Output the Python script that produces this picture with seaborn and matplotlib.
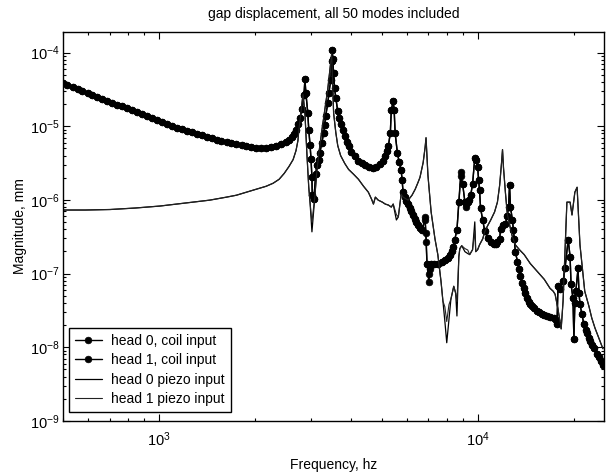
import numpy as np
import pandas as pd
import matplotlib
matplotlib.use("Agg")
import matplotlib.pyplot as plt
import seaborn as sns
from matplotlib.ticker import LogLocator, NullFormatter, LogFormatterSciNotation

# ---------------- data (log10 values) ----------------
title_text = "gap displacement, all 50 modes included"
x_label = "Frequency, hz"
y_label = "Magnitude, mm"
legend_labels = ["head 0, coil input", "head 1, coil input",
                 "head 0 piezo input", "head 1 piezo input"]

# coil input: log10(frequency in Hz)
coil_log_freq = [
    2.698, 2.713, 2.729, 2.745, 2.760, 2.776, 2.791, 2.807, 2.822, 2.838,
    2.854, 2.869, 2.885, 2.900, 2.916, 2.931, 2.947, 2.963, 2.978, 2.994,
    3.009, 3.025, 3.040, 3.056, 3.072, 3.087, 3.103, 3.118, 3.134, 3.150,
    3.165, 3.181, 3.196, 3.212, 3.227, 3.243, 3.259, 3.274, 3.290, 3.305,
    3.321, 3.336, 3.352, 3.368, 3.383, 3.399, 3.408, 3.417, 3.424, 3.430,
    3.436, 3.442, 3.449, 3.455, 3.458, 3.461, 3.467, 3.470, 3.474, 3.477,
    3.480, 3.481, 3.486, 3.492, 3.495, 3.502, 3.505, 3.511, 3.517, 3.520,
    3.523, 3.530, 3.533, 3.539, 3.542, 3.544, 3.545, 3.548, 3.551, 3.555,
    3.561, 3.564, 3.570, 3.576, 3.583, 3.589, 3.595, 3.604, 3.614, 3.626,
    3.636, 3.648, 3.660, 3.673, 3.682, 3.695, 3.704, 3.710, 3.717, 3.720,
    3.726, 3.729, 3.735, 3.738, 3.741, 3.748, 3.754, 3.760, 3.763, 3.766,
    3.773, 3.776, 3.782, 3.788, 3.791, 3.798, 3.804, 3.807, 3.813, 3.819,
    3.826, 3.835, 3.838, 3.841, 3.847, 3.850, 3.854, 3.863, 3.875, 3.888,
    3.897, 3.907, 3.913, 3.919, 3.922, 3.928, 3.935, 3.941, 3.947, 3.953,
    3.960, 3.963, 3.969, 3.972, 3.978, 3.984, 3.991, 3.994, 4.000, 4.003,
    4.006, 4.009, 4.016, 4.022, 4.031, 4.041, 4.050, 4.056, 4.062, 4.069,
    4.072, 4.078, 4.087, 4.093, 4.097, 4.100, 4.103, 4.109, 4.112, 4.115,
    4.118, 4.125, 4.131, 4.134, 4.140, 4.146, 4.150, 4.156, 4.162, 4.165,
    4.171, 4.178, 4.187, 4.193, 4.203, 4.209, 4.218, 4.227, 4.240, 4.246,
    4.249, 4.252, 4.259, 4.268, 4.274, 4.284, 4.290, 4.293, 4.299, 4.302,
    4.305, 4.308, 4.315, 4.318, 4.321, 4.327, 4.333, 4.340, 4.343, 4.349,
    4.352, 4.358, 4.364, 4.374, 4.380, 4.386, 4.393]

# head 0, coil input: log10(magnitude in mm)
coil0_log_mag = [
    -4.417, -4.444, -4.470, -4.497, -4.524, -4.551, -4.578, -4.605, -4.632, -4.659,
    -4.679, -4.706, -4.732, -4.759, -4.786, -4.813, -4.840, -4.867, -4.894, -4.921,
    -4.948, -4.974, -4.995, -5.021, -5.042, -5.062, -5.082, -5.102, -5.122, -5.142,
    -5.163, -5.183, -5.196, -5.216, -5.230, -5.243, -5.257, -5.270, -5.284, -5.290,
    -5.297, -5.290, -5.284, -5.263, -5.237, -5.210, -5.183, -5.142, -5.102, -5.048,
    -4.968, -4.887, -4.766, -4.578, -4.363, -4.551, -4.820, -5.048, -5.250, -5.438,
    -5.694, -5.936, -5.989, -5.653, -5.532, -5.452, -5.358, -5.223, -5.089, -4.981,
    -4.860, -4.685, -4.551, -4.376, -4.121, -3.960, -4.081, -4.282, -4.484, -4.618,
    -4.793, -4.887, -4.968, -5.048, -5.129, -5.210, -5.263, -5.344, -5.398, -5.465,
    -5.505, -5.532, -5.559, -5.573, -5.559, -5.519, -5.465, -5.398, -5.331, -5.263,
    -5.089, -4.780, -4.659, -4.780, -5.089, -5.358, -5.492, -5.599, -5.734, -5.895,
    -5.962, -6.016, -6.056, -6.110, -6.150, -6.204, -6.258, -6.298, -6.339, -6.379,
    -6.406, -6.231, -6.567, -6.863, -7.118, -6.944, -6.863, -6.863, -6.863, -6.836,
    -6.809, -6.782, -6.742, -6.688, -6.634, -6.540, -6.406, -6.030, -5.626, -5.788,
    -6.030, -6.097, -6.030, -6.003, -5.936, -5.788, -5.425, -5.452, -5.559, -5.734,
    -5.868, -6.110, -6.272, -6.419, -6.513, -6.567, -6.594, -6.594, -6.567, -6.527,
    -6.392, -6.339, -6.325, -6.218, -6.097, -5.801, -6.097, -6.272, -6.406, -6.527,
    -6.702, -6.836, -6.944, -7.038, -7.132, -7.199, -7.266, -7.333, -7.387, -7.414,
    -7.441, -7.468, -7.508, -7.522, -7.548, -7.562, -7.575, -7.589, -7.602, -7.629,
    -7.683, -7.172, -7.212, -7.105, -6.930, -6.540, -6.769, -7.145, -7.333, -7.884,
    -7.401, -7.239, -6.930, -7.266, -7.414, -7.548, -7.683, -7.763, -7.804, -7.871,
    -7.911, -7.965, -8.005, -8.086, -8.126, -8.180, -8.234]

# head 1, coil input differs from head 0 only at these frequencies
coil1_changes = {3.835: -6.270, 3.838: -6.450, 3.847: -7.000, 3.850: -6.900,
                 3.947: -5.680, 3.963: -6.060}

# piezo input: log10(frequency in Hz)
piezo_log_freq = [
    2.698, 2.769, 2.847, 2.925, 3.003, 3.056, 3.106, 3.159, 3.212, 3.243,
    3.274, 3.305, 3.336, 3.358, 3.377, 3.393, 3.408, 3.421, 3.430, 3.436,
    3.439, 3.445, 3.452, 3.458, 3.464, 3.470, 3.474, 3.480, 3.489, 3.495,
    3.502, 3.511, 3.520, 3.530, 3.536, 3.542, 3.545, 3.548, 3.555, 3.561,
    3.570, 3.583, 3.595, 3.611, 3.626, 3.642, 3.657, 3.667, 3.673, 3.679,
    3.688, 3.701, 3.710, 3.720, 3.729, 3.735, 3.745, 3.751, 3.757, 3.760,
    3.766, 3.782, 3.794, 3.804, 3.813, 3.819, 3.829, 3.835, 3.838, 3.844,
    3.854, 3.866, 3.875, 3.885, 3.891, 3.897, 3.903, 3.910, 3.916, 3.925,
    3.931, 3.935, 3.941, 3.944, 3.950, 3.960, 3.969, 3.975, 3.984, 3.991,
    3.994, 4.000, 4.006, 4.016, 4.022, 4.031, 4.041, 4.053, 4.062, 4.069,
    4.075, 4.078, 4.081, 4.087, 4.093, 4.103, 4.109, 4.118, 4.131, 4.146,
    4.165, 4.187, 4.209, 4.227, 4.237, 4.243, 4.252, 4.262, 4.268, 4.274,
    4.280, 4.290, 4.296, 4.305, 4.312, 4.321, 4.336, 4.349, 4.358, 4.368,
    4.380, 4.393]

# head 0, piezo input: log10(magnitude in mm)
piezo0_log_mag = [
    -6.137, -6.137, -6.130, -6.110, -6.083, -6.056, -6.030, -6.003, -5.962, -5.936,
    -5.895, -5.855, -5.815, -5.774, -5.720, -5.640, -5.546, -5.452, -5.331, -5.196,
    -5.048, -4.820, -4.565, -4.820, -5.358, -5.828, -6.030, -6.433, -5.962, -5.626,
    -5.358, -5.062, -4.793, -4.484, -4.255, -4.013, -4.417, -4.820, -5.089, -5.263,
    -5.398, -5.505, -5.586, -5.653, -5.720, -5.815, -5.895, -5.989, -6.056, -5.962,
    -6.003, -6.030, -6.056, -6.070, -6.097, -6.056, -6.272, -6.231, -6.030, -5.922,
    -5.962, -6.003, -5.936, -5.855, -5.761, -5.694, -5.492, -5.290, -5.156, -5.667,
    -6.164, -6.527, -6.742, -7.105, -7.374, -7.642, -7.938, -7.616, -7.347, -7.172,
    -7.266, -7.575, -6.769, -6.661, -6.621, -6.702, -6.728, -6.742, -6.675, -6.298,
    -6.702, -6.675, -6.608, -6.527, -6.433, -6.352, -6.272, -6.164, -6.030, -5.801,
    -5.492, -5.317, -5.559, -5.895, -6.191, -6.392, -6.500, -6.608, -6.675, -6.742,
    -6.863, -6.970, -7.078, -7.199, -7.239, -7.280, -7.481, -7.750, -7.374, -6.702,
    -6.030, -6.030, -6.204, -5.895, -5.828, -6.608, -7.239, -7.441, -7.602, -7.737,
    -7.871, -8.019]

# head 1, piezo input differs from head 0 only at these frequencies
piezo1_changes = {3.480: -6.300, 3.745: -6.200, 3.897: -7.450, 3.903: -7.650,
                  3.910: -7.420, 3.935: -7.380, 3.960: -6.660, 3.969: -6.680,
                  3.991: -6.420}

x_limits = (500, 25000)
y_limits = (1e-9, 1.9e-4)

# ---------------- build tables ----------------
coil1_log_mag = [coil1_changes.get(f, m) for f, m in zip(coil_log_freq, coil0_log_mag)]
piezo1_log_mag = [piezo1_changes.get(f, m) for f, m in zip(piezo_log_freq, piezo0_log_mag)]

df_coil = pd.DataFrame({
    "freq": 10 ** np.array(coil_log_freq),
    "head0": 10 ** np.array(coil0_log_mag),
    "head1": 10 ** np.array(coil1_log_mag),
})
df_piezo = pd.DataFrame({
    "freq": 10 ** np.array(piezo_log_freq),
    "head0": 10 ** np.array(piezo0_log_mag),
    "head1": 10 ** np.array(piezo1_log_mag),
})

# ---------------- style ----------------
sns.set_style("ticks")
plt.rcParams.update({
    "font.family": ["Liberation Sans", "DejaVu Sans"],
    "mathtext.fontset": "custom",
    "mathtext.rm": "Liberation Sans",
    "mathtext.it": "Liberation Sans:italic",
    "mathtext.bf": "Liberation Sans:bold",
    "axes.unicode_minus": False,
    "axes.edgecolor": "black",
    "axes.linewidth": 1.0,
    "xtick.color": "black",
    "ytick.color": "black",
    "text.color": "black",
    "axes.labelcolor": "black",
})

fig, ax = plt.subplots(figsize=(6.06, 4.75), dpi=100)
fig.subplots_adjust(left=0.104, right=0.9975, bottom=0.1137, top=0.9326)

marker_kw = dict(marker="o", markersize=4.8, markeredgecolor="black",
                 markerfacecolor="black", markeredgewidth=0.5)

sns.lineplot(data=df_coil, x="freq", y="head0", ax=ax, color="black",
             linewidth=1.0, estimator=None, sort=False,
             label=legend_labels[0], **marker_kw)
sns.lineplot(data=df_coil, x="freq", y="head1", ax=ax, color="black",
             linewidth=1.0, estimator=None, sort=False,
             label=legend_labels[1], **marker_kw)
sns.lineplot(data=df_piezo, x="freq", y="head0", ax=ax, color="black",
             linewidth=0.9, estimator=None, sort=False,
             label=legend_labels[2])
sns.lineplot(data=df_piezo, x="freq", y="head1", ax=ax, color="#222222",
             linewidth=0.8, estimator=None, sort=False,
             label=legend_labels[3])

ax.set_xscale("log")
ax.set_yscale("log")
ax.set_xlim(*x_limits)
ax.set_ylim(*y_limits)

ax.xaxis.set_major_locator(LogLocator(base=10, numticks=20))
ax.xaxis.set_minor_locator(LogLocator(base=10, subs=np.arange(2, 10), numticks=50))
ax.yaxis.set_major_locator(LogLocator(base=10, numticks=20))
ax.yaxis.set_minor_locator(LogLocator(base=10, subs=np.arange(2, 10), numticks=50))
ax.xaxis.set_major_formatter(LogFormatterSciNotation())
ax.yaxis.set_major_formatter(LogFormatterSciNotation())
ax.xaxis.set_minor_formatter(NullFormatter())
ax.yaxis.set_minor_formatter(NullFormatter())

ax.tick_params(which="both", direction="in", top=True, right=True,
               width=0.8, colors="black")
ax.tick_params(which="major", length=5, labelsize=10.5)
ax.tick_params(which="minor", length=2.5)
ax.tick_params(axis="x", which="major", pad=7)
ax.tick_params(axis="y", which="major", pad=2.5)

ax.set_title(title_text, fontsize=10, pad=10)
ax.set_xlabel(x_label, fontsize=10, labelpad=6)
ax.set_ylabel(y_label, fontsize=10, labelpad=2)

for sp in ax.spines.values():
    sp.set_visible(True)
    sp.set_color("black")
    sp.set_linewidth(1.0)

leg = ax.legend(loc="lower left", bbox_to_anchor=(0.011, 0.023),
                borderaxespad=0, frameon=True, fancybox=False,
                edgecolor="black", framealpha=1, fontsize=10,
                handlelength=1.9, handletextpad=0.7, labelspacing=0.38,
                borderpad=0.45, numpoints=1)
leg.get_frame().set_linewidth(1.0)

fig.savefig("out.png", dpi=100)
